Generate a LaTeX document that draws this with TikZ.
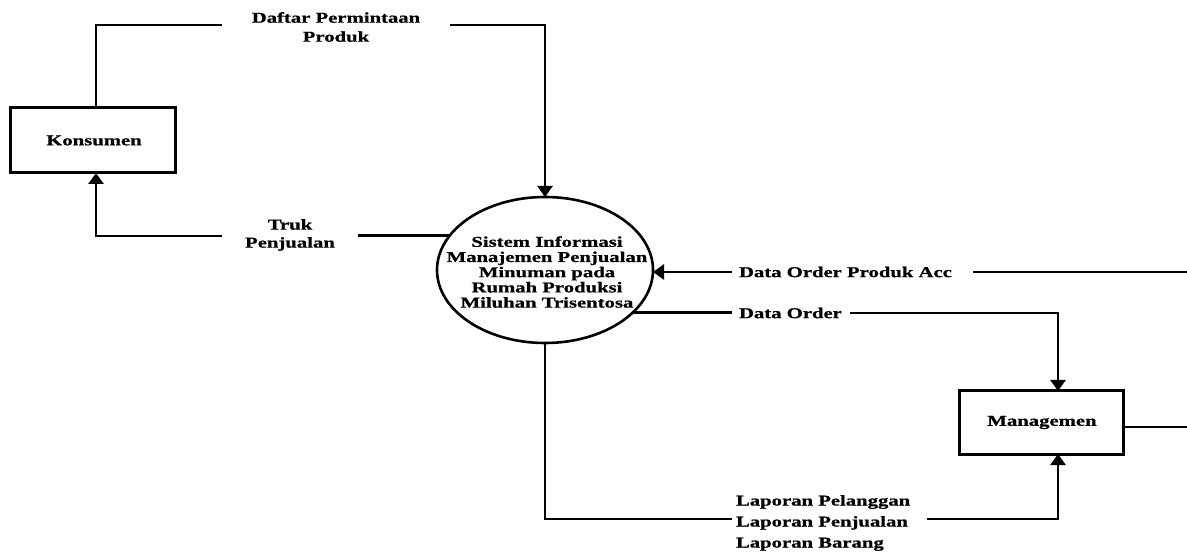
\documentclass[tikz,border=0pt]{standalone}
\usepackage{fontspec}
\setmainfont{Liberation Serif}[FakeStretch=1.38, BoldFeatures={FakeBold=0.8}]
\usetikzlibrary{arrows.meta,shapes.geometric}
\begin{document}
\begin{tikzpicture}[x=1pt,y=-1pt,
  every node/.style={font=\bfseries\fontsize{15}{15}\selectfont, inner sep=0pt, outer sep=0pt},
  entity/.style={draw, line width=3pt},
  flow/.style={line width=2.6pt},
  arr/.style={flow, -{Triangle[length=11pt,width=15pt]}},
  proc/.style={draw, ellipse, line width=2.6pt}]
\fill[white] (0,0) rectangle (1187,553);
\useasboundingbox (0,0) rectangle (1187,553);

% nodes
\node[entity, minimum width=165pt, minimum height=65pt] (kons) at (92.5,140.5) {};
\node (konstxt) at (94,140.5) {Konsumen};
\node[entity, minimum width=164pt, minimum height=63pt] (man) at (1041,422.5) {};
\node (mantxt) at (1042,422.5) {Managemen};
\node[proc, minimum width=216pt, minimum height=146pt] (sis) at (545,270) {};
\node[align=center, font=\bfseries\fontsize{15}{15.2}\selectfont] (sistxt) at (547,272)
  {Sistem Informasi\\Manajemen Penjualan\\Minuman pada\\Rumah Produksi\\Miluhan Trisentosa};

% labels
\node[align=center, font=\bfseries\fontsize{15}{19}\selectfont] (lblDaftar) at (336,27) {Daftar Permintaan\\Produk};
\node[align=center, font=\bfseries\fontsize{15}{18}\selectfont] (lblTruk) at (290,235) {Truk\\Penjualan};
\node[anchor=west] (lblAcc) at (739,272) {Data Order Produk Acc};
\node[anchor=west] (lblDo) at (739,313) {Data Order};
\node[anchor=west, align=left, font=\bfseries\fontsize{15}{21}\selectfont] (lblLap) at (736,523)
  {Laporan Pelanggan\\Laporan Penjualan\\Laporan Barang};

% coordinates at label gaps and picture edge
\coordinate (dp1) at (222,25);
\coordinate (dp2) at (450,25);
\coordinate (tp1) at (222,236);
\coordinate (tp2) at (358,236);
\coordinate (acc1) at (732,272);
\coordinate (acc2) at (973,272);
\coordinate (edgeA) at (1187,272);
\coordinate (do1) at (732,313);
\coordinate (do2) at (850,313);
\coordinate (lp1) at (732,519);
\coordinate (lp2) at (927,519);
\coordinate (edgeB) at (1187,427);

% connectors
\draw[flow] ([xshift=3.5pt]kons.north) |- (dp1);
\draw[arr] (dp2) -| (sis.north);
\draw[flow] (sis.160.3) -- (sis.160.3 -| tp2);
\draw[arr] (tp1) -| ([xshift=3.5pt]kons.south);
\draw[arr] (acc1) -- (acc1 -| sis.east);
\draw[flow] (acc2) -- (edgeA);
\draw[flow] (sis.-26.57) -- (sis.-26.57 -| do1);
\draw[arr] (do2) -| ([xshift=17pt]man.north);
\draw[flow] (sis.south) |- (lp1);
\draw[arr] (lp2) -| ([xshift=17pt]man.south);
\draw[flow] ([yshift=-4.5pt]man.east) -- (edgeB);
\end{tikzpicture}
\end{document}
